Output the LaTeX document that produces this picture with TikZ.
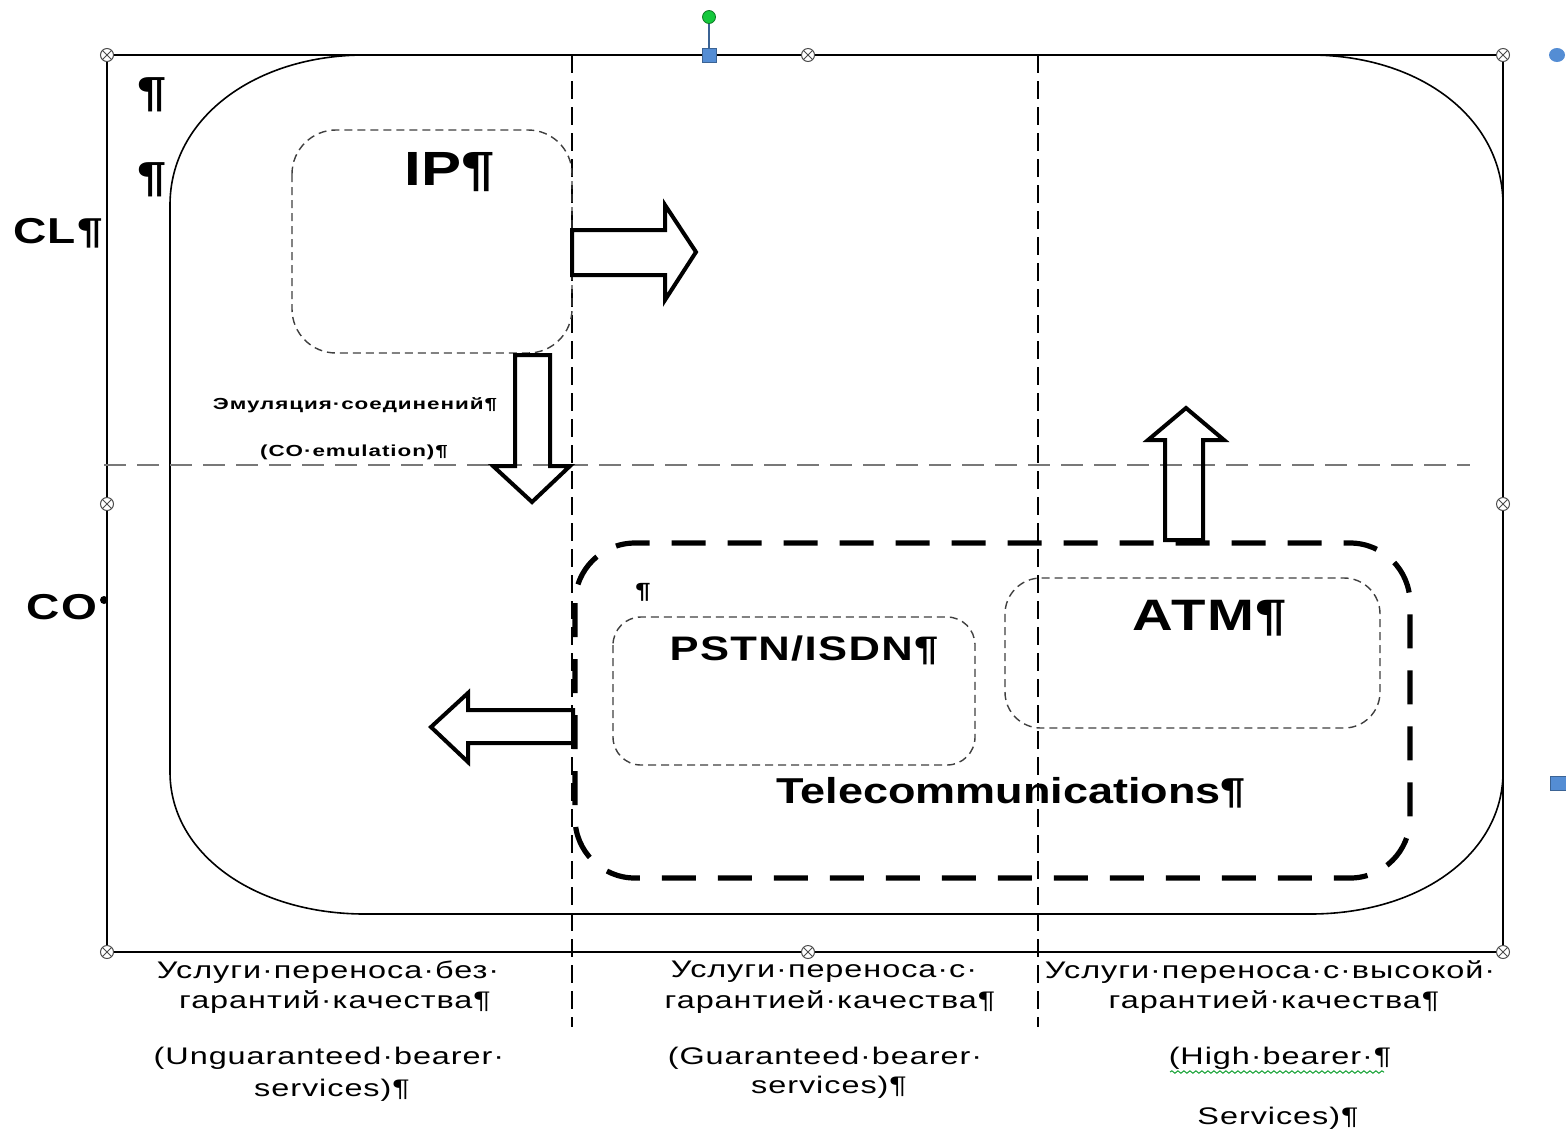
\documentclass[tikz,border=0pt]{standalone}
\usepackage{fontspec}
\setmainfont{Liberation Sans}
\newfontfamily\labfont[FakeStretch=1.25]{Liberation Sans}
\newfontfamily\labwfont[FakeStretch=1.28,LetterSpace=4]{Liberation Sans}
\newfontfamily\botfont[FakeStretch=1.35,LetterSpace=4]{Liberation Sans}
\newfontfamily\emufont[FakeStretch=1.4,LetterSpace=6]{Liberation Sans}
\usetikzlibrary{decorations.pathmorphing,shapes.geometric}
\definecolor{selblue}{RGB}{84,141,212}
\definecolor{selgreen}{RGB}{20,200,60}
\definecolor{hgray}{RGB}{120,120,120}
\tikzset{
  frameline/.style={line width=1pt, black},
  bigbox/.style={line width=0.8pt, black},
  coldash/.style={line width=0.9pt, black, dash pattern=on 9pt off 4pt},
  rowdash/.style={line width=1.2pt, hgray, dash pattern=on 11pt off 5.5pt},
  dotbox/.style={line width=0.7pt, black!75, dash pattern=on 4pt off 2.5pt},
  telebox/.style={line width=2.6pt, black, dash pattern=on 17pt off 11pt},
  blockarrow/.style={line width=2pt, black, line join=miter},
  handle/.style={circle, draw=black!70, fill=white, line width=0.5pt,
    minimum size=6.5pt, inner sep=0pt,
    path picture={\draw[black!70, line width=0.4pt]
      (path picture bounding box.south west) -- (path picture bounding box.north east)
      (path picture bounding box.north west) -- (path picture bounding box.south east);}},
  biglbl/.style={inner sep=0pt, font=\labfont\bfseries\fontsize{#1}{#1}\selectfont},
  widelbl/.style={inner sep=0pt, font=\labwfont\bfseries\fontsize{#1}{#1}\selectfont},
  botlbl/.style={inner sep=0pt, font=\botfont\fontsize{12}{14}\selectfont},
  emulbl/.style={inner sep=0pt, font=\emufont\bfseries\fontsize{8}{10}\selectfont},
}
\begin{document}
\begin{tikzpicture}[x=0.5pt,y=-0.5pt]
\useasboundingbox (0,0) rectangle (1566,1131);
\fill[white] (0,0) rectangle (1566,1131);

% selection frame
\draw[frameline] (107,55) rectangle (1503,952);

% big rounded rectangle
\draw[bigbox] (365,55) -- (1310,55)
  .. controls (1420,55) and (1503,118) .. (1503,205)
  -- (1503,772)
  .. controls (1503,854) and (1420,914) .. (1310,914)
  -- (365,914)
  .. controls (255,914) and (170,854) .. (170,772)
  -- (170,205)
  .. controls (170,118) and (255,55) .. (365,55) -- cycle;

% column and row separators
\draw[coldash] (572,55) -- (572,1027);
\draw[coldash] (1038,55) -- (1038,1027);
\draw[rowdash] (104,465) -- (1470,465);

% inner boxes
\draw[dotbox, rounded corners=22pt] (292,130) rectangle (572,353);
\draw[telebox, rounded corners=30pt] (575,543) rectangle (1410,878);
\draw[dotbox, rounded corners=14pt] (613,617) rectangle (975,765);
\draw[dotbox, rounded corners=18pt] (1005,578) rectangle (1380,728);

% block arrows
\draw[blockarrow] (572,230) -- (665,230) -- (665,205) -- (696,252) -- (665,300) -- (665,275) -- (572,275) -- cycle;
\draw[blockarrow] (515,355) -- (550,355) -- (550,466) -- (570,466) -- (532,502) -- (493,466) -- (515,466) -- cycle;
\draw[blockarrow] (1165,540) -- (1203,540) -- (1203,440) -- (1224,440) -- (1186,408) -- (1148,440) -- (1165,440) -- cycle;
\draw[blockarrow] (573,710) -- (468,710) -- (468,693) -- (431,727) -- (468,762) -- (468,743) -- (573,743) -- cycle;

% handles
\foreach \n/\p in {h1/{(107,55)}, h2/{(808,55)}, h3/{(1503,55)}, h4/{(107,504)},
                   h5/{(1503,504)}, h6/{(107,952)}, h7/{(808,952)}, h8/{(1503,952)}}
  \node[handle] (\n) at \p {};
\node[circle, fill=selgreen, draw=selgreen!60!black, line width=0.4pt, minimum size=6.5pt, inner sep=0pt] (rot) at (709,17) {};
\node[rectangle, fill=selblue, draw=selblue!70!black, line width=0.4pt, minimum size=7pt, inner sep=0pt] (topsq) at (709,55) {};
\draw[selblue!70!black, line width=0.6pt] (rot) -- (topsq);
\node[ellipse, fill=selblue, minimum width=8pt, minimum height=7pt, inner sep=0pt] (rdot) at (1557,55) {};
\node[rectangle, fill=selblue, draw=selblue!70!black, line width=0.4pt, minimum width=9pt, minimum height=7pt, inner sep=0pt] (rsq) at (1559,783) {};

% labels
\node[biglbl=21] (p1) at (152,95) {¶};
\node[biglbl=21] (p2) at (152,180) {¶};
\node[widelbl=18] (cl) at (58,233) {CL¶};
\node[widelbl=18] (co) at (62,607) {CO};
\fill (104,600) circle (2pt);
\node[biglbl=24] (ip) at (450,172) {IP¶};
\node[emulbl] (emu1) at (355,405) {Эмуляция·соединений¶};
\node[emulbl] (emu2) at (354,452) {(CO·emulation)¶};
\node[biglbl=11] (p3) at (643,592) {¶};
\node[widelbl=17] (pstn) at (804,650) {PSTN/ISDN¶};
\node[widelbl=22] (atm) at (1210,618) {ATM¶};
\node[biglbl=18] (tele) at (1011,793) {Telecommunications¶};

% bottom captions
\node[botlbl] (c1a) at (328,972) {Услуги·переноса·без·};
\node[botlbl] (c1b) at (335,1002) {гарантий·качества¶};
\node[botlbl] (c1c) at (329,1058) {(Unguaranteed·bearer·};
\node[botlbl] (c1d) at (332,1090) {services)¶};
\node[botlbl] (c2a) at (824,972) {Услуги·переноса·с·};
\node[botlbl] (c2b) at (830,1002) {гарантией·качества¶};
\node[botlbl] (c2c) at (825,1058) {(Guaranteed·bearer·};
\node[botlbl] (c2d) at (829,1087) {services)¶};
\node[botlbl] (c3a) at (1270,972) {Услуги·переноса·с·высокой·};
\node[botlbl] (c3b) at (1274,1002) {гарантией·качества¶};
\node[botlbl] (c3c) at (1280,1058) {(High·bearer·¶};
\node[botlbl] (c3d) at (1278,1118) {Services)¶};
\draw[selgreen!80!black, line width=0.5pt, decorate, decoration={snake, segment length=3pt, amplitude=0.6pt}] (1170,1072) -- (1384,1072);
\end{tikzpicture}
\end{document}
